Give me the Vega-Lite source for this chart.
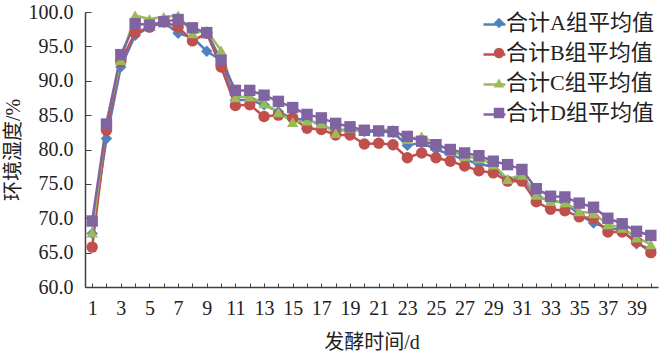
{
  "$schema": "https://vega.github.io/schema/vega-lite/v6.json",
  "width": 573,
  "height": 275,
  "autosize": "none",
  "padding": {"left": 85, "top": 12, "right": 2, "bottom": 71},
  "background": "white",
  "config": {
    "view": {"stroke": null},
    "font": "Liberation Serif, Noto Sans CJK SC",
    "legend": {
      "title": null,
      "labelFontSize": 22,
      "labelFont": "Liberation Serif, Noto Sans CJK SC",
      "labelColor": "#222222",
      "padding": 0
    }
  },
  "data": {
    "values": [
      {"d":1,"g":"合计A组平均值","v":67.8},{"d":1,"g":"合计B组平均值","v":65.8},{"d":1,"g":"合计C组平均值","v":67.9},{"d":1,"g":"合计D组平均值","v":69.6},
      {"d":2,"g":"合计A组平均值","v":81.6},{"d":2,"g":"合计B组平均值","v":82.8},{"d":2,"g":"合计C组平均值","v":84.0},{"d":2,"g":"合计D组平均值","v":83.7},
      {"d":3,"g":"合计A组平均值","v":92.0},{"d":3,"g":"合计B组平均值","v":92.8},{"d":3,"g":"合计C组平均值","v":93.0},{"d":3,"g":"合计D组平均值","v":93.8},
      {"d":4,"g":"合计A组平均值","v":96.6},{"d":4,"g":"合计B组平均值","v":97.0},{"d":4,"g":"合计C组平均值","v":99.5},{"d":4,"g":"合计D组平均值","v":98.3},
      {"d":5,"g":"合计A组平均值","v":97.8},{"d":5,"g":"合计B组平均值","v":97.8},{"d":5,"g":"合计C组平均值","v":99.0},{"d":5,"g":"合计D组平均值","v":98.1},
      {"d":6,"g":"合计A组平均值","v":98.5},{"d":6,"g":"合计B组平均值","v":98.6},{"d":6,"g":"合计C组平均值","v":99.3},{"d":6,"g":"合计D组平均值","v":98.6},
      {"d":7,"g":"合计A组平均值","v":96.9},{"d":7,"g":"合计B组平均值","v":97.8},{"d":7,"g":"合计C组平均值","v":99.5},{"d":7,"g":"合计D组平均值","v":98.9},
      {"d":8,"g":"合计A组平均值","v":96.3},{"d":8,"g":"合计B组平均值","v":95.8},{"d":8,"g":"合计C组平均值","v":96.9},{"d":8,"g":"合计D组平均值","v":97.7},
      {"d":9,"g":"合计A组平均值","v":94.3},{"d":9,"g":"合计B组平均值","v":96.9},{"d":9,"g":"合计C组平均值","v":97.3},{"d":9,"g":"合计D组平均值","v":97.0},
      {"d":10,"g":"合计A组平均值","v":93.0},{"d":10,"g":"合计B组平均值","v":92.0},{"d":10,"g":"合计C组平均值","v":94.4},{"d":10,"g":"合计D组平均值","v":93.0},
      {"d":11,"g":"合计A组平均值","v":87.2},{"d":11,"g":"合计B组平均值","v":86.4},{"d":11,"g":"合计C组平均值","v":87.6},{"d":11,"g":"合计D组平均值","v":88.6},
      {"d":12,"g":"合计A组平均值","v":87.2},{"d":12,"g":"合计B组平均值","v":86.5},{"d":12,"g":"合计C组平均值","v":87.7},{"d":12,"g":"合计D组平均值","v":88.6},
      {"d":13,"g":"合计A组平均值","v":86.5},{"d":13,"g":"合计B组平均值","v":84.8},{"d":13,"g":"合计C组平均值","v":86.7},{"d":13,"g":"合计D组平均值","v":87.9},
      {"d":14,"g":"合计A组平均值","v":85.5},{"d":14,"g":"合计B组平均值","v":85.0},{"d":14,"g":"合计C组平均值","v":85.4},{"d":14,"g":"合计D组平均值","v":87.0},
      {"d":15,"g":"合计A组平均值","v":84.5},{"d":15,"g":"合计B组平均值","v":84.6},{"d":15,"g":"合计C组平均值","v":84.0},{"d":15,"g":"合计D组平均值","v":86.1},
      {"d":16,"g":"合计A组平均值","v":84.3},{"d":16,"g":"合计B组平均值","v":83.1},{"d":16,"g":"合计C组平均值","v":84.2},{"d":16,"g":"合计D组平均值","v":85.1},
      {"d":17,"g":"合计A组平均值","v":83.6},{"d":17,"g":"合计B组平均值","v":82.9},{"d":17,"g":"合计C组平均值","v":83.8},{"d":17,"g":"合计D组平均值","v":84.6},
      {"d":18,"g":"合计A组平均值","v":82.7},{"d":18,"g":"合计B组平均值","v":82.1},{"d":18,"g":"合计C组平均值","v":82.4},{"d":18,"g":"合计D组平均值","v":83.8},
      {"d":19,"g":"合计A组平均值","v":83.0},{"d":19,"g":"合计B组平均值","v":82.1},{"d":19,"g":"合计C组平均值","v":83.1},{"d":19,"g":"合计D组平均值","v":83.3},
      {"d":20,"g":"合计A组平均值","v":82.6},{"d":20,"g":"合计B组平均值","v":80.8},{"d":20,"g":"合计C组平均值","v":82.7},{"d":20,"g":"合计D组平均值","v":82.8},
      {"d":21,"g":"合计A组平均值","v":82.6},{"d":21,"g":"合计B组平均值","v":80.9},{"d":21,"g":"合计C组平均值","v":82.8},{"d":21,"g":"合计D组平均值","v":82.7},
      {"d":22,"g":"合计A组平均值","v":82.5},{"d":22,"g":"合计B组平均值","v":80.7},{"d":22,"g":"合计C组平均值","v":82.9},{"d":22,"g":"合计D组平均值","v":82.6},
      {"d":23,"g":"合计A组平均值","v":80.6},{"d":23,"g":"合计B组平均值","v":78.8},{"d":23,"g":"合计C组平均值","v":81.5},{"d":23,"g":"合计D组平均值","v":81.9},
      {"d":24,"g":"合计A组平均值","v":81.0},{"d":24,"g":"合计B组平均值","v":79.5},{"d":24,"g":"合计C组平均值","v":81.9},{"d":24,"g":"合计D组平均值","v":81.2},
      {"d":25,"g":"合计A组平均值","v":80.0},{"d":25,"g":"合计B组平均值","v":78.8},{"d":25,"g":"合计C组平均值","v":80.9},{"d":25,"g":"合计D组平均值","v":80.7},
      {"d":26,"g":"合计A组平均值","v":79.3},{"d":26,"g":"合计B组平均值","v":78.3},{"d":26,"g":"合计C组平均值","v":79.8},{"d":26,"g":"合计D组平均值","v":80.0},
      {"d":27,"g":"合计A组平均值","v":78.5},{"d":27,"g":"合计B组平均值","v":77.6},{"d":27,"g":"合计C组平均值","v":79.0},{"d":27,"g":"合计D组平均值","v":79.5},
      {"d":28,"g":"合计A组平均值","v":77.9},{"d":28,"g":"合计B组平均值","v":76.9},{"d":28,"g":"合计C组平均值","v":78.7},{"d":28,"g":"合计D组平均值","v":79.1},
      {"d":29,"g":"合计A组平均值","v":77.5},{"d":29,"g":"合计B组平均值","v":76.6},{"d":29,"g":"合计C组平均值","v":77.8},{"d":29,"g":"合计D组平均值","v":78.3},
      {"d":30,"g":"合计A组平均值","v":75.5},{"d":30,"g":"合计B组平均值","v":75.4},{"d":30,"g":"合计C组平均值","v":75.7},{"d":30,"g":"合计D组平均值","v":77.8},
      {"d":31,"g":"合计A组平均值","v":75.9},{"d":31,"g":"合计B组平均值","v":75.4},{"d":31,"g":"合计C组平均值","v":76.3},{"d":31,"g":"合计D组平均值","v":77.1},
      {"d":32,"g":"合计A组平均值","v":73.2},{"d":32,"g":"合计B组平均值","v":72.4},{"d":32,"g":"合计C组平均值","v":73.4},{"d":32,"g":"合计D组平均值","v":74.3},
      {"d":33,"g":"合计A组平均值","v":72.5},{"d":33,"g":"合计B组平均值","v":71.3},{"d":33,"g":"合计C组平均值","v":72.5},{"d":33,"g":"合计D组平均值","v":73.2},
      {"d":34,"g":"合计A组平均值","v":72.3},{"d":34,"g":"合计B组平均值","v":71.1},{"d":34,"g":"合计C组平均值","v":72.3},{"d":34,"g":"合计D组平均值","v":73.1},
      {"d":35,"g":"合计A组平均值","v":70.5},{"d":35,"g":"合计B组平均值","v":70.2},{"d":35,"g":"合计C组平均值","v":71.0},{"d":35,"g":"合计D组平均值","v":72.2},
      {"d":36,"g":"合计A组平均值","v":69.3},{"d":36,"g":"合计B组平均值","v":70.0},{"d":36,"g":"合计C组平均值","v":70.7},{"d":36,"g":"合计D组平均值","v":71.6},
      {"d":37,"g":"合计A组平均值","v":68.6},{"d":37,"g":"合计B组平均值","v":68.0},{"d":37,"g":"合计C组平均值","v":69.1},{"d":37,"g":"合计D组平均值","v":70.0},
      {"d":38,"g":"合计A组平均值","v":68.3},{"d":38,"g":"合计B组平均值","v":68.0},{"d":38,"g":"合计C组平均值","v":68.6},{"d":38,"g":"合计D组平均值","v":69.2},
      {"d":39,"g":"合计A组平均值","v":66.3},{"d":39,"g":"合计B组平均值","v":66.6},{"d":39,"g":"合计C组平均值","v":67.2},{"d":39,"g":"合计D组平均值","v":68.1},
      {"d":40,"g":"合计A组平均值","v":65.5},{"d":40,"g":"合计B组平均值","v":65.0},{"d":40,"g":"合计C组平均值","v":66.2},{"d":40,"g":"合计D组平均值","v":67.5}
    ]
  },
  "encoding": {
    "x": {
      "field": "d",
      "type": "quantitative",
      "scale": {"domain": [0.5, 40.5], "nice": false, "zero": false},
      "axis": {
        "values": [1,2,3,4,5,6,7,8,9,10,11,12,13,14,15,16,17,18,19,20,21,22,23,24,25,26,27,28,29,30,31,32,33,34,35,36,37,38,39,40],
        "labelExpr": "datum.value % 2 == 1 ? datum.label : ''",
        "title": "发酵时间/d",
        "grid": false,
        "tickSize": -4,
        "domainColor": "#404040",
        "domainWidth": 1.5,
        "tickColor": "#404040",
        "labelFontSize": 20,
        "labelFont": "Liberation Serif",
        "labelColor": "#222222",
        "labelPadding": 15,
        "labelFlush": false,
        "labelOverlap": false,
        "titleFontSize": 20,
        "titleFontWeight": "normal",
        "titleFont": "Liberation Serif, Noto Sans CJK SC",
        "titleColor": "#222222",
        "titleY": 55,
        "titleBaseline": "middle"
      }
    },
    "y": {
      "field": "v",
      "type": "quantitative",
      "scale": {"domain": [60, 100], "nice": false, "zero": false},
      "axis": {
        "values": [60,65,70,75,80,85,90,95,100],
        "format": ".1f",
        "title": "环境湿度/%",
        "grid": false,
        "tickSize": -6,
        "domainColor": "#404040",
        "domainWidth": 1.5,
        "tickColor": "#404040",
        "labelFontSize": 20,
        "labelFont": "Liberation Serif",
        "labelColor": "#222222",
        "labelPadding": 18,
        "titleFontSize": 20,
        "titleFontWeight": "normal",
        "titleFont": "Liberation Serif, Noto Sans CJK SC",
        "titleColor": "#222222",
        "titleX": -72,
        "titleY": 137.5,
        "titleAngle": -90,
        "titleAlign": "center",
        "titleBaseline": "middle"
      }
    }
  },
  "layer": [
    {
      "mark": {"type": "line", "strokeWidth": 2.5},
      "encoding": {
        "stroke": {
          "field": "g",
          "type": "nominal",
          "scale": {"range": ["#4F81BD","#C0504D","#9BBB59","#8064A2"]},
          "legend": {"orient": "none", "legendX": 397, "legendY": 0, "symbolType": "stroke", "symbolSize": 484, "symbolStrokeWidth": 2.5, "labelOpacity": 0, "labelFontSize": 1, "rowPadding": 12}
        }
      }
    },
    {
      "mark": {"type": "point", "filled": true, "opacity": 1, "size": 130},
      "encoding": {
        "color": {
          "field": "g",
          "type": "nominal",
          "scale": {
            "domain": ["合计A组平均值","合计B组平均值","合计C组平均值","合计D组平均值"],
            "range": ["#4F81BD","#C0504D","#9BBB59","#8064A2"]
          },
          "legend": {"orient": "none", "legendX": 403, "legendY": 0, "symbolSize": 110, "labelOffset": -4, "symbolOpacity": 1, "rowPadding": 8}
        },
        "shape": {
          "field": "g",
          "type": "nominal",
          "scale": {
            "domain": ["合计A组平均值","合计B组平均值","合计C组平均值","合计D组平均值"],
            "range": ["diamond","circle","triangle-up","square"]
          },
          "legend": {"orient": "none", "legendX": 403, "legendY": 0, "symbolSize": 110, "labelOffset": -4, "symbolOpacity": 1, "rowPadding": 8}
        }
      }
    }
  ]
}
